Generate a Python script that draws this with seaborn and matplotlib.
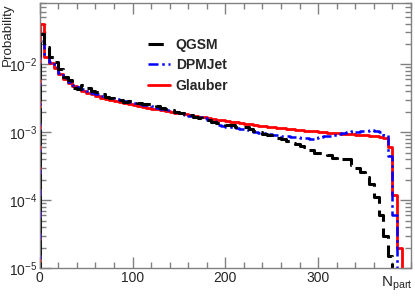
import numpy as np
import matplotlib
matplotlib.use("Agg")
import matplotlib.pyplot as plt
from matplotlib.lines import Line2D
from matplotlib.ticker import FixedLocator, MultipleLocator, LogLocator, NullFormatter
import seaborn as sns

# bin edges of N_part (5-unit bins from 0 to 400)
bin_edges = list(range(0, 405, 5))

qgsm = [0.028, 0.018, 0.013, 0.011, 0.0085, 0.0065, 0.0058, 0.0045, 0.0044, 0.0049,
        0.0045, 0.0040, 0.0039, 0.0036, 0.0033, 0.0032, 0.0031, 0.0030, 0.0028, 0.0029,
        0.0028, 0.0027, 0.0026, 0.0026, 0.0025, 0.0024, 0.0023, 0.0022, 0.0021, 0.0020,
        0.0019, 0.00185, 0.0018, 0.0017, 0.0016, 0.00155, 0.0015, 0.00142, 0.00138, 0.00136,
        0.0013, 0.00126, 0.0012, 0.0012, 0.00118, 0.0011, 0.00105, 0.0010, 0.00095, 0.0009,
        0.00085, 0.00082, 0.0008, 0.00075, 0.0007, 0.00068, 0.00062, 0.0006, 0.00055, 0.0005,
        0.00049, 0.00047, 0.00046, 0.00042, 0.00039, 0.0004, 0.00041, 0.00033, 0.0003, 0.00026,
        0.00022, 0.00017, 0.00011, 0.00006, 0.00003, 0.000015, 0.000004, 0.0, 0.0, 0.0]

dpmjet = [0.022, 0.014, 0.011, 0.0092, 0.0075, 0.0064, 0.0055, 0.0050, 0.0046, 0.0043,
          0.0040, 0.0038, 0.0036, 0.0034, 0.0033, 0.0032, 0.0031, 0.0030, 0.0029, 0.0028,
          0.0027, 0.0026, 0.0025, 0.0025, 0.0024, 0.0023, 0.0022, 0.0021, 0.0021, 0.0020,
          0.0019, 0.0018, 0.00175, 0.0017, 0.00165, 0.0016, 0.0015, 0.00145, 0.0013, 0.00125,
          0.0012, 0.00118, 0.00115, 0.0011, 0.00108, 0.00105, 0.0010, 0.00098, 0.00097, 0.00094,
          0.00092, 0.0009, 0.00088, 0.00087, 0.00085, 0.00084, 0.00083, 0.00082, 0.0008, 0.00082,
          0.00084, 0.00087, 0.00089, 0.00092, 0.00095, 0.00098, 0.00101, 0.00104, 0.00102, 0.00106,
          0.00103, 0.00107, 0.00104, 0.00100, 0.00092, 0.00045, 0.00006, 0.0, 0.0, 0.0]

glauber = [0.040, 0.013, 0.0105, 0.0088, 0.0072, 0.0061, 0.0053, 0.0048, 0.0044, 0.0041,
           0.0038, 0.0036, 0.0034, 0.0032, 0.0031, 0.0030, 0.0029, 0.0028, 0.0027, 0.0026,
           0.0025, 0.0024, 0.00235, 0.0023, 0.00223, 0.00217, 0.0021, 0.00205, 0.0020, 0.00194,
           0.00189, 0.00184, 0.00179, 0.00174, 0.0017, 0.00165, 0.0016, 0.00156, 0.00152, 0.00149,
           0.00146, 0.00143, 0.0014, 0.00137, 0.00134, 0.00131, 0.00128, 0.00125, 0.00123, 0.0012,
           0.00118, 0.00116, 0.00114, 0.00112, 0.0011, 0.00109, 0.00107, 0.00106, 0.00105, 0.00103,
           0.00101, 0.0010, 0.00099, 0.00097, 0.00096, 0.00095, 0.00094, 0.00093, 0.00092, 0.00091,
           0.0009, 0.00089, 0.00088, 0.00086, 0.00082, 0.0006, 0.00012, 0.00002, 0.0, 0.0]

labels = ["QGSM", "DPMJet", "Glauber"]
x_ticks = [0, 100, 200, 300]

sns.set_style("ticks")
plt.rcParams['font.family'] = ['Liberation Sans', 'DejaVu Sans']
plt.rcParams['mathtext.default'] = 'regular'

fig = plt.figure(figsize=(4.15, 2.98), dpi=100)
ax = fig.add_axes([0.0957, 0.1007, 0.8947, 0.889])

# prepend an empty bin so the histogram rises from the baseline at N=0
edges = [-5.0] + [float(e) for e in bin_edges]
centers = [(a + b) / 2 for a, b in zip(edges[:-1], edges[1:])]

styles = [
    dict(color="black", linestyle=(0, (5, 2.2)), linewidth=2.2),
    dict(color="#0000ff", linestyle=(0, (4, 1.5, 1, 1.5)), linewidth=1.8),
    dict(color="#ff0000", linestyle="-", linewidth=2.0),
]
series = [qgsm, dpmjet, glauber]
order = [2, 1, 0]
for i in order:
    vals = [v if v > 0 else 1e-9 for v in [1e-9] + series[i]]
    sns.histplot(x=centers, weights=vals, bins=edges, element="step",
                 fill=False, ax=ax, **styles[i])

ax.set_yscale("log")
ax.set_xlim(0, 400)
ax.set_ylim(1e-5, 0.08)

ax.xaxis.set_major_locator(FixedLocator(x_ticks))
ax.xaxis.set_minor_locator(MultipleLocator(20))
ax.yaxis.set_major_locator(LogLocator(base=10, numticks=10))
ax.yaxis.set_minor_locator(LogLocator(base=10, subs=np.arange(2, 10), numticks=20))
ax.yaxis.set_minor_formatter(NullFormatter())
ax.tick_params(which="both", direction="in", top=True, right=True, color="#808080",
               labelsize=10, pad=2)
ax.tick_params(which="major", length=8, width=1)
ax.tick_params(which="minor", length=4, width=1)
for s in ax.spines.values():
    s.set_color("#808080")
    s.set_linewidth(1)

ax.set_xlabel("")
ax.set_ylabel("Probability", fontsize=9.6, ha="right")
ax.yaxis.set_label_coords(-0.07, 0.998)
ax.text(1.005, -0.025, "N$_{part}$", transform=ax.transAxes, ha="right", va="top",
        fontsize=11)

handles = [Line2D([0], [0], **styles[i]) for i in range(3)]
leg = ax.legend(handles, labels, loc="upper left", bbox_to_anchor=(0.258, 0.915),
                frameon=False, handlelength=1.55, handletextpad=0.45, labelspacing=0.45,
                prop={"weight": "bold", "size": 10})

fig.savefig("out.png", dpi=100)
